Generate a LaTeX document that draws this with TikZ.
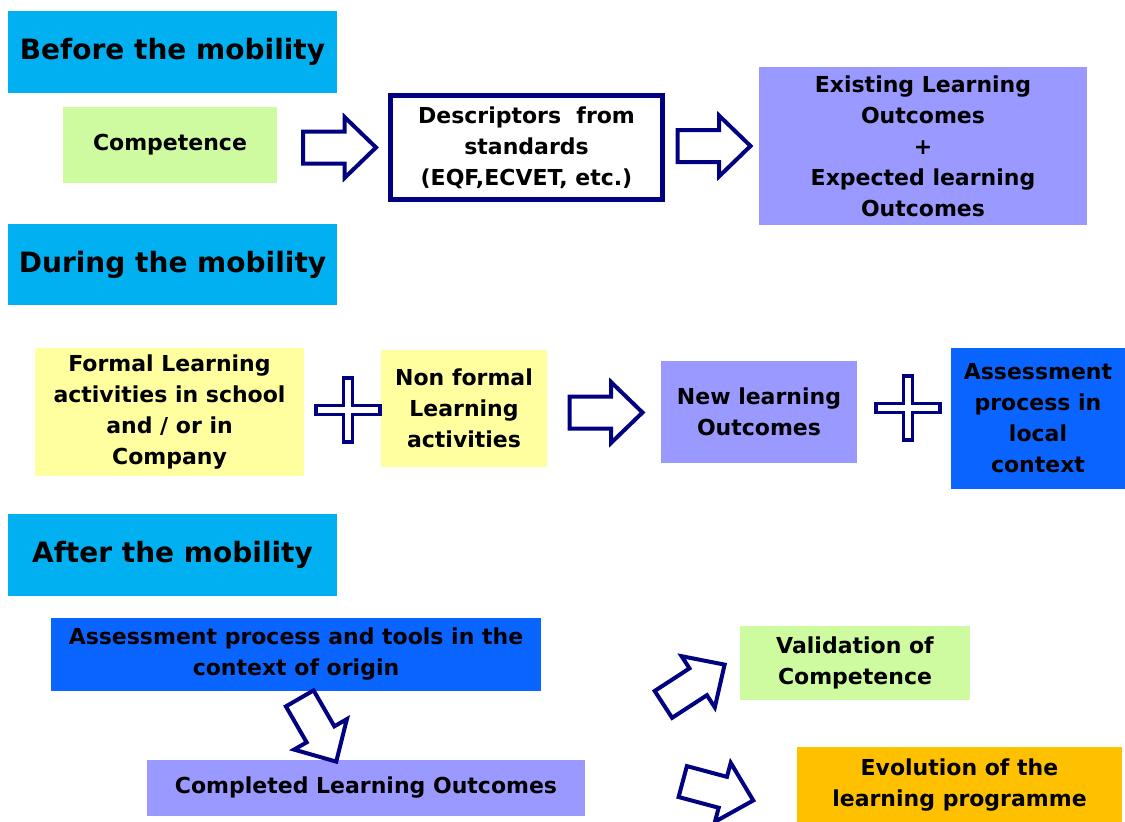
\documentclass[tikz,border=0pt]{standalone}
\usepackage{fontspec}
\setmainfont{DejaVu Sans}
\definecolor{hdrcyan}{RGB}{0,176,240}
\definecolor{lgreen}{RGB}{206,250,160}
\definecolor{lav}{RGB}{153,153,255}
\definecolor{lyellow}{RGB}{255,255,160}
\definecolor{bblue}{RGB}{10,100,255}
\definecolor{orng}{RGB}{255,192,0}
\definecolor{navy}{RGB}{0,0,128}
\tikzset{
  box/.style={rectangle, inner sep=0pt, align=center, font=\bfseries\fontsize{22}{31}\selectfont},
  hdr/.style={box, fill=hdrcyan, minimum width=329pt, font=\bfseries\fontsize{28}{32}\selectfont},
  outline/.style={draw=navy, line width=4pt, fill=white, line join=miter},
  blockarrow/.pic={\draw[outline] (-36.5,-16) -- (5,-16) -- (5,-30.5) -- (36.5,0) -- (5,30.5) -- (5,16) -- (-36.5,16) -- cycle;},
  plusmark/.pic={\draw[outline, line width=3.5pt] (-4.5,-32) -- (4.5,-32) -- (4.5,-4.5) -- (32,-4.5) -- (32,4.5) -- (4.5,4.5) -- (4.5,32) -- (-4.5,32) -- (-4.5,4.5) -- (-32,4.5) -- (-32,-4.5) -- (-4.5,-4.5) -- cycle;},
}
\begin{document}
\begin{tikzpicture}[x=1pt,y=-1pt]
\useasboundingbox (0,0) rectangle (1125,822);
% Before
\node[hdr, minimum height=82pt] (before) at (172.5,52) {Before the mobility};
\node[box, fill=lgreen, minimum width=214pt, minimum height=76pt] (comp) at (170,145) {Competence};
\node[box, fill=white, draw=navy, line width=5pt, minimum width=272pt, minimum height=104pt] (desc) at (526.5,147.5) {Descriptors~ from\\standards\\(EQF,ECVET, etc.)};
\node[box, fill=lav, minimum width=328pt, minimum height=158pt] (exist) at (923,146) {Existing Learning\\Outcomes\\+\\Expected learning\\Outcomes};
\pic (a1) at (339.5,147.5) {blockarrow};
\pic (a2) at (714,146) {blockarrow};
% During
\node[hdr, minimum height=81pt] (during) at (172.5,264.5) {During the mobility};
\node[box, fill=lyellow, minimum width=269pt, minimum height=128pt] (formal) at (169.5,412) {Formal Learning\\activities in school\\and / or in\\Company};
\node[box, fill=lyellow, minimum width=166pt, minimum height=117pt] (nonformal) at (464,408.5) {Non formal\\Learning\\activities};
\node[box, fill=lav, minimum width=196pt, minimum height=102pt] (newlo) at (759,412) {New learning\\Outcomes};
\node[box, fill=bblue, minimum width=174pt, minimum height=141pt] (assess) at (1038,418.5) {Assessment\\process in\\local\\context};
\pic (p1) at (348,410) {plusmark};
\pic (p2) at (908,408) {plusmark};
\pic (a3) at (606,412.5) {blockarrow};
% After
\node[hdr, minimum height=82pt] (after) at (172.5,555) {After the mobility};
\node[box, fill=bblue, minimum width=490pt, minimum height=73pt] (tools) at (296,654.5) {Assessment process and tools in the\\context of origin};
\node[box, fill=lav, minimum width=438pt, minimum height=56pt] (completed) at (366,788) {Completed Learning Outcomes};
\node[box, fill=lgreen, minimum width=230pt, minimum height=74pt] (valid) at (855,663) {Validation of\\Competence};
\node[box, fill=orng, minimum width=325pt, minimum height=77pt] (evol) at (959.5,785) {Evolution of the\\learning programme};
\pic[rotate=-60] (a4) at (318,730) {blockarrow};
\pic[rotate=33] (a5) at (694,684.5) {blockarrow};
\pic[rotate=-15] (a6) at (718,791) {blockarrow};
\end{tikzpicture}
\end{document}
